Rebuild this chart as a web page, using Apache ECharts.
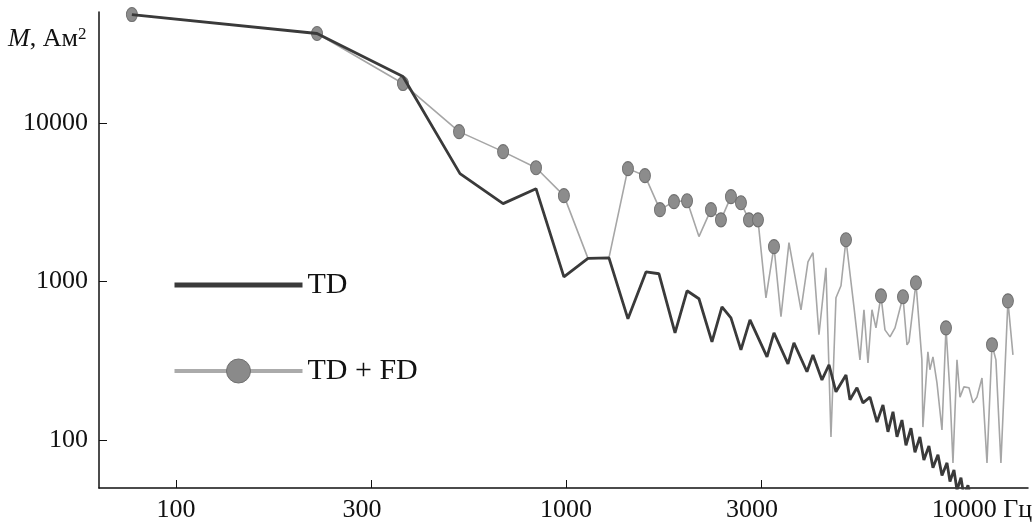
<!DOCTYPE html>
<html>
<head>
<meta charset="utf-8">
<script src="https://cdn.jsdelivr.net/npm/echarts@6/dist/echarts.min.js"></script>
<style>
  html, body { margin: 0; padding: 0; background: #fff; }
  #chart { width: 1036px; height: 523px; }
</style>
</head>
<body>
<div id="chart"></div>
<script>
// Magnetic moment spectrum, M (A·m²) versus frequency (Hz), log–log.
const seriesNames = ['TD', 'TD + FD'];

const tdFreq = [77.1, 230, 382, 535, 690, 838, 988, 1139, 1289, 1442,
  1604, 1732, 1904, 2044, 2193, 2368, 2512, 2649, 2810, 2964,
  3277, 3415, 3709, 3842, 4149, 4298, 4533, 4726, 4924, 5224,
  5348, 5574, 5775, 6019, 6273, 6499, 6694, 6895, 7060, 7270,
  7444, 7667, 7850, 8082, 8275, 8524, 8730, 8992, 9207, 9484,
  9652, 9883, 10060, 10300, 10480, 10735, 10930];
const tdMoment = [48200, 36600, 19600, 4790, 3100, 3850, 1070, 1400, 1410, 582,
  1150, 1120, 475, 875, 779, 417, 693, 591, 371, 574,
  335, 475, 303, 411, 270, 345, 240, 299, 202, 258,
  180, 214, 172, 187, 130, 167, 113, 151, 105, 134,
  93, 119, 84, 105, 75, 92, 67, 81, 60, 72,
  55, 65, 48.5, 58, 44.5, 52, 42];

const tdfdFreq = [77.1, 230, 382, 532, 690, 838, 988, 1139, 1289, 1442,
  1594, 1742, 1892, 2044, 2193, 2354, 2497, 2649, 2810, 2946,
  3107, 3257, 3415, 3559, 3731, 4005, 4174, 4298, 4454, 4642,
  4781, 4924, 5072, 5224, 5476, 5673, 5809, 5948, 6090, 6236,
  6423, 6576, 6774, 6977, 7314, 7489, 7577, 7896, 8178, 8227,
  8473, 8575, 8730, 8939, 9207, 9428, 9652, 9825, 10060, 10240,
  10480, 10800, 11060, 11320, 11660, 12010, 12370, 12660, 13040, 13590,
  14000];
const tdfdMoment = [48200, 36600, 17700, 8810, 6590, 5220, 3480, 1400, 1410, 5150,
  4650, 2840, 3190, 3230, 1920, 2840, 2450, 3430, 3140, 2450,
  2450, 790, 1660, 600, 1760, 664, 1330, 1520, 462, 1220,
  105, 790, 941, 1835, 693, 321, 664, 307, 664, 511,
  813, 496, 448, 511, 802, 399, 417, 983, 321, 121,
  361, 278, 335, 230, 116, 511, 199, 72, 321, 187,
  217, 214, 172, 187, 247, 72, 400, 321, 72, 756,
  345];
// 1 = the point carries a marker
const tdfdMarked = [1, 1, 1, 1, 1, 1, 1, 0, 0, 1,
  1, 1, 1, 1, 0, 1, 1, 1, 1, 1,
  1, 0, 1, 0, 0, 0, 0, 0, 0, 0,
  0, 0, 0, 1, 0, 0, 0, 0, 0, 0,
  1, 0, 0, 0, 1, 0, 0, 1, 0, 0,
  0, 0, 0, 0, 0, 1, 0, 0, 0, 0,
  0, 0, 0, 0, 0, 0, 1, 0, 0, 1,
  0];

const xLabelValues = [100, 300, 1000, 3000, 10000];
const xTickValues = [100, 316.2, 1000, 3162, 10000];
const yTickValues = [100, 1000, 10000];
const xUnit = 'Гц';

const FONT = '"Liberation Serif", "Times New Roman", serif';
const INK = '#111';

const tdData = tdFreq.map((f, i) => [f, tdMoment[i]]);
const tdfdData = tdfdFreq.map((f, i) => {
  const item = { value: [f, tdfdMoment[i]] };
  if (!tdfdMarked[i]) item.symbol = 'none';
  return item;
});

const chart = echarts.init(document.getElementById('chart'), null, { renderer: 'canvas' });

chart.setOption({
  animation: false,
  backgroundColor: '#fff',
  title: {
    text: '{i|M}, Ам{s|2}',
    left: 3,
    top: 21,
    textStyle: {
      fontFamily: FONT, fontSize: 26, fontWeight: 'normal', color: INK,
      rich: {
        i: { fontFamily: FONT, fontSize: 26, fontStyle: 'italic', color: INK },
        s: { fontFamily: FONT, fontSize: 17, color: INK, verticalAlign: 'top' }
      }
    }
  },
  grid: { left: 99, right: 8, top: 12, bottom: 35, containLabel: false, outerBoundsMode: 'none' },
  legend: {
    orient: 'vertical',
    left: 167,
    top: 265,
    padding: 5,
    itemWidth: 128,
    itemHeight: 30,
    itemGap: 56,
    textStyle: { fontFamily: FONT, fontSize: 30, color: INK },
    data: [
      { name: seriesNames[0], lineStyle: { width: 5, color: '#3a3a3a' }, itemStyle: { opacity: 0 } },
      { name: seriesNames[1], lineStyle: { width: 4, color: '#ababab' }, itemStyle: { color: '#8a8a8a', borderColor: '#707070', borderWidth: 1 } }
    ]
  },
  xAxis: {
    type: 'log',
    logBase: 10,
    min: 63.5,
    max: 15300,
    axisLine: { show: true, lineStyle: { color: INK, width: 1.5 } },
    axisTick: { show: true, inside: true, length: 8, customValues: xTickValues, lineStyle: { color: INK, width: 1 } },
    axisLabel: {
      customValues: xLabelValues,
      margin: 9,
      fontFamily: FONT,
      fontSize: 26,
      color: INK,
      formatter: v => {
        const n = Math.round(v);
        return n === 10000 ? '{u|' + n + ' ' + xUnit + '}' : String(n);
      },
      rich: { u: { fontFamily: FONT, fontSize: 26, color: INK, padding: [0, 0, 0, 52] } }
    },
    splitLine: { show: false },
    minorTick: { show: false }
  },
  yAxis: {
    type: 'log',
    logBase: 10,
    min: 50,
    max: 50000,
    axisLine: { show: true, lineStyle: { color: INK, width: 1.5 } },
    axisTick: { show: true, inside: true, length: 8, customValues: yTickValues, lineStyle: { color: INK, width: 1 } },
    axisLabel: {
      customValues: yTickValues,
      margin: 11,
      fontFamily: FONT,
      fontSize: 26,
      color: INK,
      formatter: v => String(Math.round(v))
    },
    splitLine: { show: false }
  },
  series: [
    {
      name: seriesNames[1],
      type: 'line',
      data: tdfdData,
      symbol: 'circle',
      symbolSize: [11, 14],
      showAllSymbol: true,
      lineStyle: { color: '#a6a6a6', width: 1.6 },
      itemStyle: { color: '#8c8c8c', borderColor: '#6f6f6f', borderWidth: 1 },
      z: 2
    },
    {
      name: seriesNames[0],
      type: 'line',
      data: tdData,
      symbol: 'none',
      lineStyle: { color: '#3a3a3a', width: 2.8 },
      itemStyle: { color: '#3a3a3a' },
      z: 3
    }
  ]
});
</script>
</body>
</html>
